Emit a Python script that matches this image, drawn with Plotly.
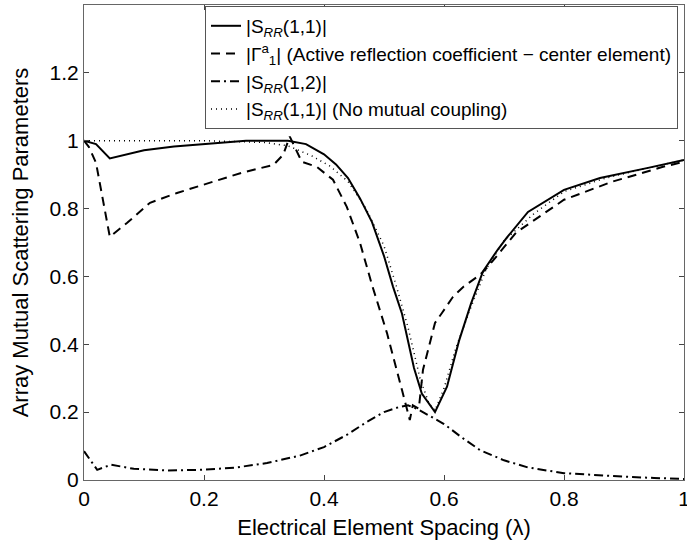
import plotly.graph_objects as go

# |S_RR(1,1)|
x_s11 = [0, 0.02, 0.043, 0.07, 0.1, 0.15, 0.2, 0.27, 0.34, 0.37, 0.4, 0.42, 0.44, 0.46, 0.48,
         0.5, 0.515, 0.53, 0.55, 0.563, 0.585, 0.605, 0.625, 0.645, 0.665, 0.69, 0.705, 0.74,
         0.8, 0.86, 0.94, 1.0]
y_s11 = [1.0, 0.99, 0.948, 0.96, 0.972, 0.983, 0.99, 1.0, 1.0, 0.99, 0.96, 0.93, 0.89, 0.83, 0.76,
         0.66, 0.57, 0.49, 0.33, 0.255, 0.2, 0.275, 0.41, 0.52, 0.615, 0.68, 0.715, 0.79,
         0.855, 0.89, 0.92, 0.943]

# |Gamma_1^a| active reflection coefficient
x_gam = [0, 0.008, 0.02, 0.043, 0.072, 0.11, 0.155, 0.21, 0.262, 0.316, 0.332, 0.343, 0.363,
         0.388, 0.415, 0.438, 0.46, 0.48, 0.505, 0.53, 0.543, 0.548, 0.558, 0.565, 0.577, 0.585,
         0.598, 0.615, 0.632, 0.66, 0.673, 0.72, 0.8, 0.88, 0.965, 1.0]
y_gam = [1.0, 0.982, 0.935, 0.717, 0.758, 0.817, 0.846, 0.876, 0.905, 0.929, 0.959, 1.012, 0.938,
         0.923, 0.885, 0.805, 0.699, 0.575, 0.433, 0.265, 0.177, 0.22, 0.21, 0.325, 0.413, 0.463,
         0.496, 0.54, 0.569, 0.605, 0.628, 0.729, 0.826, 0.879, 0.923, 0.938]

# |S_RR(1,2)|
x_s12 = [0, 0.022, 0.045, 0.083, 0.14, 0.195, 0.25, 0.305, 0.36, 0.4, 0.44, 0.472, 0.5, 0.525,
         0.54, 0.555, 0.575, 0.6, 0.63, 0.66, 0.7, 0.74, 0.8, 0.85, 0.9, 0.95, 1.0]
y_s12 = [0.085, 0.03, 0.045, 0.033, 0.028, 0.03, 0.036, 0.05, 0.072, 0.097, 0.135, 0.172, 0.2,
         0.215, 0.22, 0.21, 0.19, 0.165, 0.125, 0.088, 0.058, 0.037, 0.02, 0.014, 0.01, 0.006, 0.003]

# |S_RR(1,1)| no mutual coupling
x_nmc = [0, 0.05, 0.1, 0.2, 0.3, 0.34, 0.38, 0.41, 0.44, 0.47, 0.5, 0.52, 0.54, 0.56, 0.575,
         0.585, 0.6, 0.62, 0.645, 0.67, 0.7, 0.75, 0.8, 0.87, 0.94, 1.0]
y_nmc = [1.0, 1.0, 1.0, 1.0, 0.995, 0.985, 0.955, 0.925, 0.88, 0.8, 0.69, 0.575, 0.45, 0.3, 0.225,
         0.205, 0.27, 0.39, 0.51, 0.62, 0.705, 0.785, 0.85, 0.89, 0.92, 0.943]

x_ticks = [0, 0.2, 0.4, 0.6, 0.8, 1]
x_labels = ["0", "0.2", "0.4", "0.6", "0.8", "1"]
y_ticks = [0, 0.2, 0.4, 0.6, 0.8, 1, 1.2]
y_labels = ["0", "0.2", "0.4", "0.6", "0.8", "1", "1.2"]

names = [
    "|S<sub><i>RR</i></sub>(1,1)|",
    "|Γ<sup>a</sup><sub>1</sub>| (Active reflection coefficient − center element)",
    "|S<sub><i>RR</i></sub>(1,2)|",
    "|S<sub><i>RR</i></sub>(1,1)| (No mutual coupling)",
]

FONT = "Liberation Sans, Arial, Helvetica, sans-serif"

fig = go.Figure()
fig.add_trace(go.Scatter(x=x_s11, y=y_s11, mode="lines", name=names[0],
                         line=dict(color="black", width=2, dash="solid")))
fig.add_trace(go.Scatter(x=x_gam, y=y_gam, mode="lines", name=names[1],
                         line=dict(color="black", width=2, dash="9px,6px")))
fig.add_trace(go.Scatter(x=x_s12, y=y_s12, mode="lines", name=names[2],
                         line=dict(color="black", width=2, dash="9px,4px,2px,4px")))
fig.add_trace(go.Scatter(x=x_nmc, y=y_nmc, mode="lines", name=names[3],
                         line=dict(color="black", width=1.5, dash="1px,4px")))

axis_common = dict(showline=True, linecolor="#666", linewidth=1, mirror="allticks",
                   ticks="inside", ticklen=5, tickcolor="#444", showgrid=False, zeroline=False,
                   ticklabeloverflow="allow",
                   tickfont=dict(size=21, color="black", family=FONT), automargin=False)

fig.update_layout(
    width=687, height=544,
    margin=dict(l=84, r=3, t=5, b=64),
    paper_bgcolor="white", plot_bgcolor="white",
    font=dict(family=FONT, color="black", size=21),
    xaxis=dict(range=[0, 1], tickvals=x_ticks, ticktext=x_labels,
               title=dict(text="Electrical Element Spacing (λ)", font=dict(size=22), standoff=10),
               **axis_common),
    yaxis=dict(range=[0, 1.4], tickvals=y_ticks, ticktext=y_labels,
               title=dict(text="Array Mutual Scattering Parameters", font=dict(size=22), standoff=14),
               **axis_common),
    legend=dict(x=0.99, y=0.998, xanchor="right", yanchor="top",
                bgcolor="white", bordercolor="#555", borderwidth=1,
                font=dict(size=19, family=FONT), tracegroupgap=0),
    showlegend=True,
)

fig.write_html("out.html")
